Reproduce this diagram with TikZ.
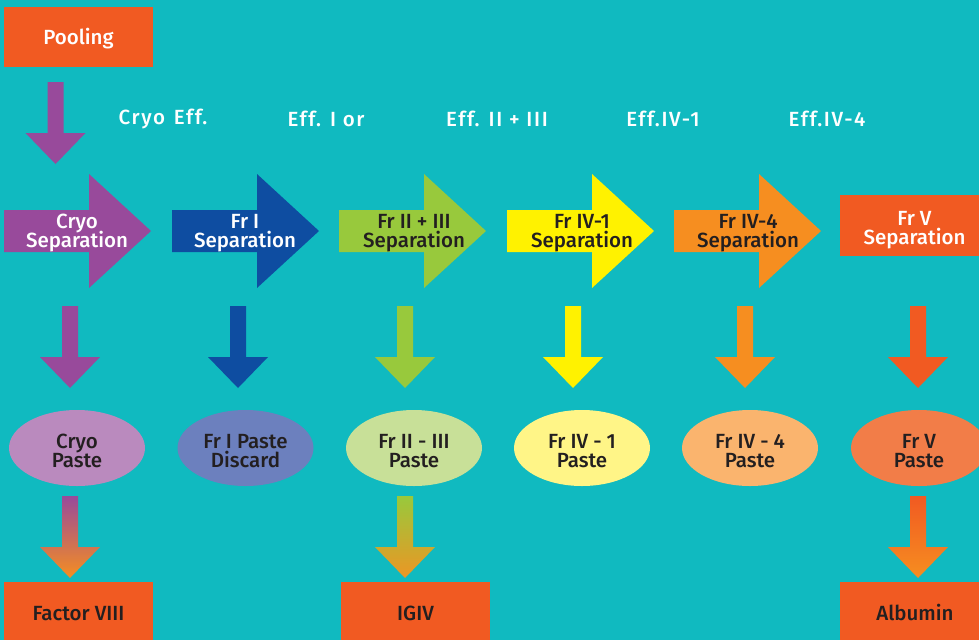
\documentclass[tikz,border=0pt]{standalone}
\usepackage{fontspec}
\setmainfont{Fira Sans Medium}
\newfontfamily\spaced[LetterSpace=8]{Fira Sans Medium}
\usetikzlibrary{shapes.geometric}
\definecolor{bg}{RGB}{16,186,192}
\definecolor{orred}{RGB}{241,90,34}
\definecolor{purp}{RGB}{152,74,155}
\definecolor{dblue}{RGB}{14,77,161}
\definecolor{lime}{RGB}{152,201,60}
\definecolor{yel}{RGB}{255,242,0}
\definecolor{orng}{RGB}{246,142,32}
\definecolor{txt}{RGB}{35,31,32}
\definecolor{ecryo}{RGB}{186,138,190}
\definecolor{efri}{RGB}{108,128,190}
\definecolor{efrii}{RGB}{200,224,152}
\definecolor{efriv}{RGB}{255,245,135}
\definecolor{efrivf}{RGB}{250,180,110}
\definecolor{efrv}{RGB}{242,125,72}
\newcommand{\bigarr}[2]{\fill[#2] (#1,210) -- ({#1+85},210) -- ({#1+85},174) -- ({#1+147},231) -- ({#1+85},288) -- ({#1+85},252) -- (#1,252) -- cycle;}
\newcommand{\dnarr}[3]{\path[#3] ({#1-8},#2) -- ({#1+8},#2) -- ({#1+8},{#2+51}) -- ({#1+30},{#2+51}) -- (#1,{#2+82}) -- ({#1-30},{#2+51}) -- ({#1-8},{#2+51}) -- cycle;}
\newcommand{\dn}{\rule{0pt}{20pt}}
\newcommand{\dna}{\rule{0pt}{22pt}}
\newcommand{\dnb}{\rule{0pt}{19.5pt}}
\setlength{\lineskiplimit}{-30pt}
\tikzset{
  lbl/.style={font=\fontsize{20.5}{19}\selectfont, align=center, inner sep=0pt},
  toplbl/.style={font=\spaced\fontsize{20.5}{20}\selectfont, inner sep=0pt, text=white},
  boxnode/.style={rectangle, fill=orred, minimum width=149pt, inner sep=0pt, font=\fontsize{20.5}{20}\selectfont, align=center},
  paste/.style={ellipse, minimum width=136pt, minimum height=76pt, inner sep=0pt, align=center, text=txt, font=\fontsize{20.5}{19}\selectfont},
}
\begin{document}
\begin{tikzpicture}[x=1pt,y=-1pt]
\useasboundingbox (0,0) rectangle (979,640);
\fill[bg] (0,0) rectangle (979,640);
% top box
\node[boxnode, minimum height=60pt, text=white] (pool) at (78.5,37) {\dnb Pooling};
\dnarr{55.5}{82}{fill=purp}
% effluent labels
\node[toplbl] (e1) at (163,119) {Cryo\hspace{2pt} Eff.};
\node[toplbl] (e2) at (326,119) {Eff. I or};
\node[toplbl] (e3) at (497,119) {Eff. II + III};
\node[toplbl] (e4) at (663,119) {Eff.IV-1};
\node[toplbl] (e5) at (827,119) {Eff.IV-4};
% separation arrows
\bigarr{4}{purp}
\bigarr{172}{dblue}
\bigarr{339}{lime}
\bigarr{507}{yel}
\bigarr{674}{orng}
\node[boxnode, minimum width=150pt, minimum height=61pt] (s6box) at (915,225.5) {};
\node[lbl,text=white] (s1) at (77,229.5) {\dna Cryo\\Separation};
\node[lbl,text=white] (s2) at (245,229.5) {\dna Fr I\\Separation};
\node[lbl,text=txt] (s3) at (414,229.5) {\dna Fr II + III\\Separation};
\node[lbl,text=txt] (s4) at (582,229.5) {\dna Fr IV-1\\Separation};
\node[lbl,text=txt] (s5) at (748,229.5) {\dna Fr IV-4\\Separation};
\node[lbl,text=white] (s6) at (914.5,226) {\dna Fr V\\Separation};
% middle arrows
\dnarr{70}{306}{fill=purp}
\dnarr{238}{306}{fill=dblue}
\dnarr{405}{306}{fill=lime}
\dnarr{573}{306}{fill=yel}
\dnarr{745}{306}{fill=orng}
\dnarr{918}{306}{fill=orred}
% pastes
\node[paste, fill=ecryo] (p1) at (77,448) {\dn Cryo\\Paste};
\node[paste, fill=efri] (p2) at (245.5,448) {\dn Fr I Paste\\Discard};
\node[paste, fill=efrii] (p3) at (414,448) {\dn Fr II - III\\Paste};
\node[paste, fill=efriv] (p4) at (582,448) {\dn Fr IV - 1\\Paste};
\node[paste, fill=efrivf] (p5) at (750,448) {\dn Fr IV - 4\\Paste};
\node[paste, fill=efrv] (p6) at (919,448) {\dn Fr V\\Paste};
% bottom arrows
\dnarr{70}{496}{top color=purp, bottom color=orng}
\dnarr{405}{496}{top color=lime, bottom color={rgb,255:red,236;green,150;blue,36}}
\dnarr{918}{496}{top color=orred, bottom color=orng}
% products
\node[boxnode, minimum height=58pt, text=txt] (b1) at (78.5,611) {\dnb Factor VIII};
\node[boxnode, minimum height=58pt, text=txt] (b2) at (415.5,611) {\dnb IGIV};
\node[boxnode, minimum width=150pt, minimum height=58pt, text=txt] (b3) at (915,611) {\dnb Albumin};
\end{tikzpicture}
\end{document}
